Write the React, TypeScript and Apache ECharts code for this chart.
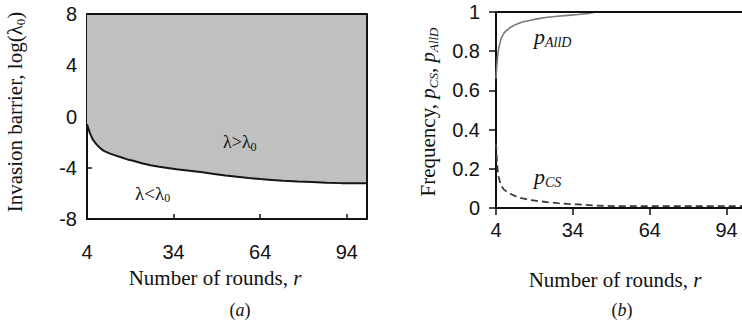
import React, { useEffect, useRef } from "react";
import * as echarts from "echarts";

// ---- data ----
const roundsA = [4, 5, 6, 7, 8, 9, 10, 12, 14, 16, 18, 20, 23, 26, 29, 32, 35, 38, 41, 44, 48, 52, 56, 60, 64, 68, 72, 77, 82, 87, 92, 97, 101];
const barrierA = [-0.6, -1.3, -1.8, -2.1, -2.35, -2.55, -2.7, -2.9, -3.05, -3.2, -3.35, -3.45, -3.65, -3.8, -3.92, -4.02, -4.12, -4.2, -4.28, -4.36, -4.48, -4.6, -4.7, -4.8, -4.88, -4.95, -5.02, -5.08, -5.12, -5.17, -5.2, -5.2, -5.2];

const roundsB = [4, 4.3, 4.6, 5, 5.5, 6, 7, 8, 9, 10, 12, 14, 17, 20, 24, 28, 32, 36, 40, 43, 50, 60, 70, 80, 90, 100];
const pAllD = [0.66, 0.72, 0.77, 0.81, 0.84, 0.865, 0.89, 0.905, 0.915, 0.925, 0.938, 0.948, 0.957, 0.965, 0.973, 0.978, 0.983, 0.987, 0.992, 1.0, 1, 1, 1, 1, 1, 1];
const pCS = [0.33, 0.26, 0.2, 0.16, 0.135, 0.115, 0.095, 0.085, 0.077, 0.07, 0.058, 0.05, 0.042, 0.036, 0.03, 0.025, 0.021, 0.018, 0.015, 0.012, 0.01, 0.01, 0.01, 0.01, 0.01, 0.01];

const xTicks = [4, 34, 64, 94];

const SERIF = '"Liberation Serif", "Times New Roman", serif';
const SANS = '"Liberation Sans", Arial, sans-serif';
const INK = "#111";

const richBase = (size: number, italicSub: boolean) => ({
  n: { fontSize: size, fontFamily: SERIF, lineHeight: size + 5, verticalAlign: "middle", fill: INK },
  i: { fontSize: size, fontFamily: SERIF, fontStyle: "italic", lineHeight: size + 5, verticalAlign: "middle", fill: INK },
  s: {
    fontSize: Math.round(size * 0.64),
    fontFamily: SERIF,
    fontStyle: italicSub ? "italic" : "normal",
    lineHeight: Math.round(size * 0.64),
    verticalAlign: "top",
    padding: [Math.round(size * 0.58), 0, 0, 0],
    fill: INK,
  },
});

function txt(x: number, y: number, text: string, size: number, opts: any = {}) {
  return {
    type: "text",
    x,
    y,
    rotation: opts.rotation || 0,
    z: 100,
    style: {
      text,
      rich: richBase(size, !!opts.italicSub),
      align: opts.align || "center",
      verticalAlign: "middle",
      fill: opts.fill || INK,
    },
  };
}

export default function App() {
  const ref = useRef<HTMLDivElement>(null);
  useEffect(() => {
    if (!ref.current) return;
    const chart = echarts.init(ref.current, undefined, { renderer: "svg" });
    const axisLine = { show: true, onZero: false, lineStyle: { color: INK, width: 2 } };
    const borderAxis = {
      axisLine,
      axisTick: { show: false },
      axisLabel: { show: false },
      splitLine: { show: false },
      z: 10,
    };
    const tickLabel = { color: INK, fontSize: 20, fontFamily: SANS };
    chart.setOption({
      animation: false,
      backgroundColor: "#fff",
      grid: [
        { left: 87, top: 14, width: 280, height: 205 },
        { left: 496, top: 12, width: 246, height: 196 },
      ],
      xAxis: [
        {
          gridIndex: 0, type: "value", min: 4, max: 101,
          axisLine,
          axisTick: { inside: true, length: 5, customValues: xTicks, lineStyle: { color: INK, width: 1.5 } },
          axisLabel: { ...tickLabel, margin: 23, customValues: xTicks },
          splitLine: { show: false },
        },
        { gridIndex: 0, type: "value", position: "top", min: 4, max: 101, ...borderAxis },
        {
          gridIndex: 1, type: "value", min: 4, max: 100,
          axisLine,
          axisTick: { inside: false, length: 7, customValues: xTicks, lineStyle: { color: INK, width: 1.5 } },
          axisLabel: { ...tickLabel, margin: 12, customValues: xTicks },
          splitLine: { show: false },
        },
        { gridIndex: 1, type: "value", position: "top", min: 4, max: 100, ...borderAxis },
      ],
      yAxis: [
        {
          gridIndex: 0, type: "value", min: -8, max: 8, interval: 4,
          axisLine,
          axisTick: { inside: true, length: 5, lineStyle: { color: INK, width: 1.5 } },
          axisLabel: { ...tickLabel, margin: 10 },
          splitLine: { show: false },
        },
        { gridIndex: 0, type: "value", position: "right", min: -8, max: 8, ...borderAxis },
        {
          gridIndex: 1, type: "value", min: 0, max: 1, interval: 0.2,
          axisLine,
          axisTick: { inside: false, length: 7, lineStyle: { color: INK, width: 1.5 } },
          axisLabel: { ...tickLabel, margin: 16 },
          splitLine: { show: false },
        },
      ],
      series: [
        {
          type: "line",
          xAxisIndex: 0, yAxisIndex: 0,
          data: roundsA.map((r, k) => [r, barrierA[k]]),
          showSymbol: false,
          lineStyle: { color: "#161616", width: 2 },
          areaStyle: { origin: "end", color: "#c0c0c0", opacity: 1 },
          z: 2,
        },
        {
          type: "line",
          xAxisIndex: 2, yAxisIndex: 2,
          data: roundsB.map((r, k) => [r, pAllD[k]]),
          showSymbol: false,
          lineStyle: { color: "#7a7a7a", width: 1.6 },
        },
        {
          type: "line",
          xAxisIndex: 2, yAxisIndex: 2,
          data: roundsB.map((r, k) => [r, pCS[k]]),
          showSymbol: false,
          lineStyle: { color: "#3a3a3a", width: 1.8, type: [7, 4] },
        },
      ],
      graphic: [
        txt(15, 112, "{n|Invasion barrier, log(λ}{s|0}{n|)}", 21, { rotation: Math.PI / 2 }),
        txt(215, 278, "{n|Number of rounds, }{i|r}", 21),
        txt(240, 310, "{n|(}{i|a}{n|)}", 18),
        txt(223, 142, "{n|λ>λ}{s|0}", 18, { align: "left" }),
        txt(135, 193, "{n|λ<λ}{s|0}", 19, { align: "left" }),
        txt(428, 112, "{n|Frequency, }{i|p}{s|CS}{n|, }{i|p}{s|AllD}", 21, { rotation: Math.PI / 2, italicSub: true }),
        txt(615, 280, "{n|Number of rounds, }{i|r}", 21),
        txt(622, 310, "{n|(}{i|b}{n|)}", 18),
        txt(534, 36, "{i|p}{s|AllD}", 22, { align: "left", italicSub: true }),
        txt(534, 176, "{i|p}{s|CS}", 22, { align: "left", italicSub: true }),
      ],
    });
    return () => chart.dispose();
  }, []);
  return <div ref={ref} style={{ position: "fixed", left: 0, top: 0, width: 742, height: 325, background: "#fff" }} />;
}
